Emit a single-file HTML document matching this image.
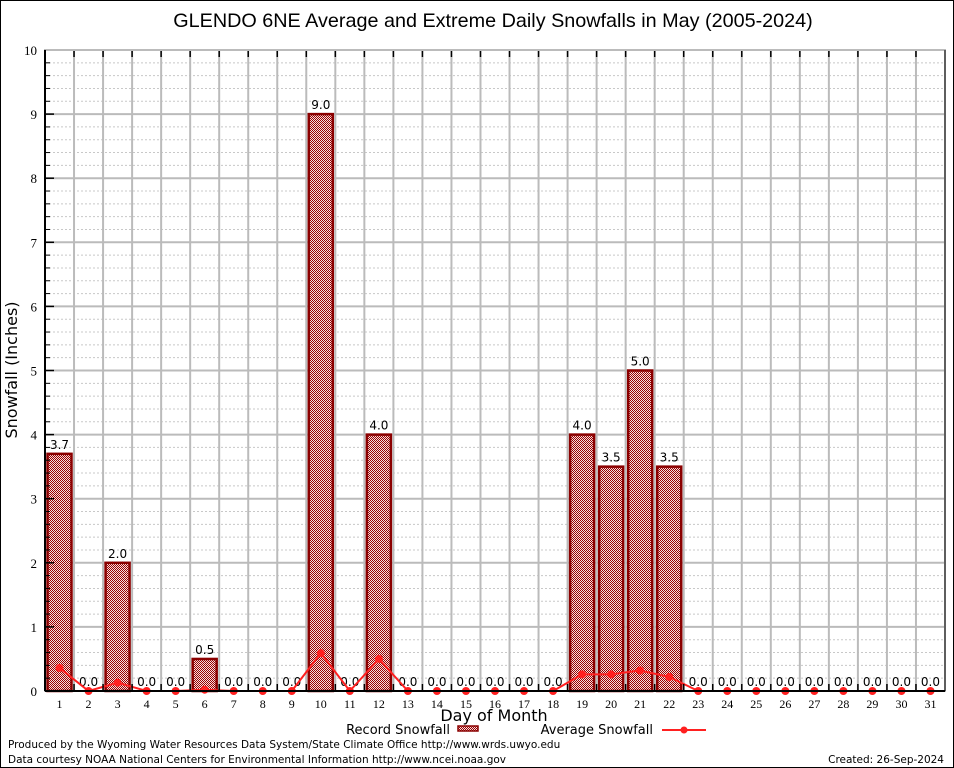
<!DOCTYPE html>
<html><head><meta charset="utf-8"><style>
body{margin:0;background:#fff}
svg{display:block;font-family:"DejaVu Sans","Liberation Sans",sans-serif}
</style></head><body>
<svg id="chart" width="954" height="768" viewBox="0 0 954 768">
<defs>
<pattern id="chk" width="2" height="2" patternUnits="userSpaceOnUse">
<rect width="2" height="2" fill="#f4e0e0"/><rect width="1" height="1" fill="#9a0000"/><rect x="1" y="1" width="1" height="1" fill="#9a0000"/>
</pattern>
</defs>
<rect x="0.5" y="0.5" width="953" height="767" fill="#fff" stroke="#000"/>
<text x="493" y="27" font-size="19.8" text-anchor="middle" font-family="Liberation Sans, sans-serif">GLENDO 6NE Average and Extreme Daily Snowfalls in May (2005-2024)</text>
<g id="grid"></g>
<g id="bars"></g>
<g id="avg"></g>
<g id="axes"></g>
<text x="17" y="370" font-size="16" text-anchor="middle" transform="rotate(-90 17 370)">Snowfall (Inches)</text>
<text x="494" y="721" font-size="16" text-anchor="middle">Day of Month</text>
<g>
<text x="450" y="734" font-size="13" text-anchor="end">Record Snowfall</text>
<rect x="458" y="726" width="20" height="5" fill="url(#chk)" stroke="#8b0000" stroke-width="1.5"/>
<text x="653" y="734" font-size="13" text-anchor="end">Average Snowfall</text>
<line x1="662" y1="730" x2="706" y2="730" stroke="#ff2020" stroke-width="2"/>
<circle cx="684" cy="730" r="3.5" fill="#ff2020"/>
</g>
<text x="8" y="748" font-size="10.5">Produced by the Wyoming Water Resources Data System/State Climate Office http://www.wrds.uwyo.edu</text>
<text x="8" y="763" font-size="10.5">Data courtesy NOAA National Centers for Environmental Information http://www.ncei.noaa.gov</text>
<text x="944" y="763" font-size="10.5" text-anchor="end">Created: 26-Sep-2024</text>
</svg>
<script>
const days = [1,2,3,4,5,6,7,8,9,10,11,12,13,14,15,16,17,18,19,20,21,22,23,24,25,26,27,28,29,30,31];
const recordValues = [3.7,0,2.0,0,0,0.5,0,0,0,9.0,0,4.0,0,0,0,0,0,0,4.0,3.5,5.0,3.5,0,0,0,0,0,0,0,0,0];
const averageValues = [0.36,0,0.13,0,0,0.02,0,0,0,0.59,0,0.5,0,0,0,0,0,0,0.26,0.26,0.32,0.22,0,0,0,0,0,0,0,0,0];
const yTicks = [0,1,2,3,4,5,6,7,8,9,10];

const L=45,R=945,T=50,B=691,YMAX=10;
const NS='http://www.w3.org/2000/svg';
const bw=(R-L)/days.length;
function xc(i){return L+bw*(i+0.5);}
function y(v){return B-(B-T)*v/YMAX;}
function mk(tag,attrs,parent){const e=document.createElementNS(NS,tag);for(const k in attrs)e.setAttribute(k,attrs[k]);parent.appendChild(e);return e;}
const grid=document.getElementById('grid'),bars=document.getElementById('bars'),avg=document.getElementById('avg'),axes=document.getElementById('axes');

for(let v=0;v<YMAX;v+=0.2){
  if(Math.abs(v-Math.round(v))<1e-6) continue;
  const l=mk('line',{x1:L,x2:R,y1:y(v),y2:y(v),stroke:'#c8c8c8','stroke-width':1,'stroke-dasharray':'2,2'},grid);
  
  
}
yTicks.forEach(v=>{
  const l=mk('line',{x1:L,x2:R,y1:y(v),y2:y(v),stroke:'#bbb','stroke-width':2},grid);
  
  
  const t=mk('text',{x:L-8,y:y(v)+5,'font-size':13,'text-anchor':'end','font-family':'Liberation Serif, serif'},axes);
  t.textContent=v;
  
  
  const tk=mk('line',{x1:L,x2:L+9,y1:y(v),y2:y(v),stroke:'#000','stroke-width':1.5},axes);
  
  
});
for(let v=0.2;v<YMAX;v+=0.2){
  const tk=mk('line',{x1:L,x2:L+5,y1:y(v),y2:y(v),stroke:'#000','stroke-width':1},axes);
  
  
}
for(let k=1;k<days.length;k++){
  const x=L+bw*k;
  const l=mk('line',{x1:x,x2:x,y1:T,y2:B,stroke:'#bbb','stroke-width':2},grid);
  
  
  const t1=mk('line',{x1:x,x2:x,y1:T,y2:T+7,stroke:'#000','stroke-width':1.5},axes);
  
  
  const t2=mk('line',{x1:x,x2:x,y1:B-7,y2:B,stroke:'#000','stroke-width':1.5},axes);
  
  
}
const fr=mk('rect',{x:L,y:T,width:R-L,height:B-T,fill:'none',stroke:'#bbb','stroke-width':2},axes);


const la=mk('line',{x1:L,x2:L,y1:T,y2:B,stroke:'#000','stroke-width':2},axes);


const ba=mk('line',{x1:L,x2:R,y1:B,y2:B,stroke:'#000','stroke-width':2},axes);


const ra=mk('line',{x1:R,x2:R,y1:T,y2:B,stroke:'#000','stroke-width':1},axes);



days.forEach((d,i)=>{
  const v=recordValues[i],x=xc(i);
  if(v>0){
    const r=mk('rect',{x:x-12,y:y(v),width:24,height:B-y(v),fill:'url(#chk)',stroke:'#8b0000','stroke-width':2.5},bars);
    
    
  }
  const t=mk('text',{x:x,y:y(v)-5,'font-size':12,'text-anchor':'middle'},bars);
  t.textContent=v.toFixed(1);
  
  
  const xl=mk('text',{x:x,y:B+17,'font-size':12,'text-anchor':'middle','font-family':'Liberation Serif, serif'},axes);
  xl.textContent=d;
  
  
});
const pl=mk('polyline',{points:averageValues.map((v,i)=>xc(i)+','+y(v)).join(' '),fill:'none',stroke:'#ff2020','stroke-width':2},avg);


averageValues.forEach((v,i)=>{
  const c=mk('circle',{cx:xc(i),cy:y(v),r:4,fill:'#ff2020'},avg);
  
  
});
</script>
</body></html>
